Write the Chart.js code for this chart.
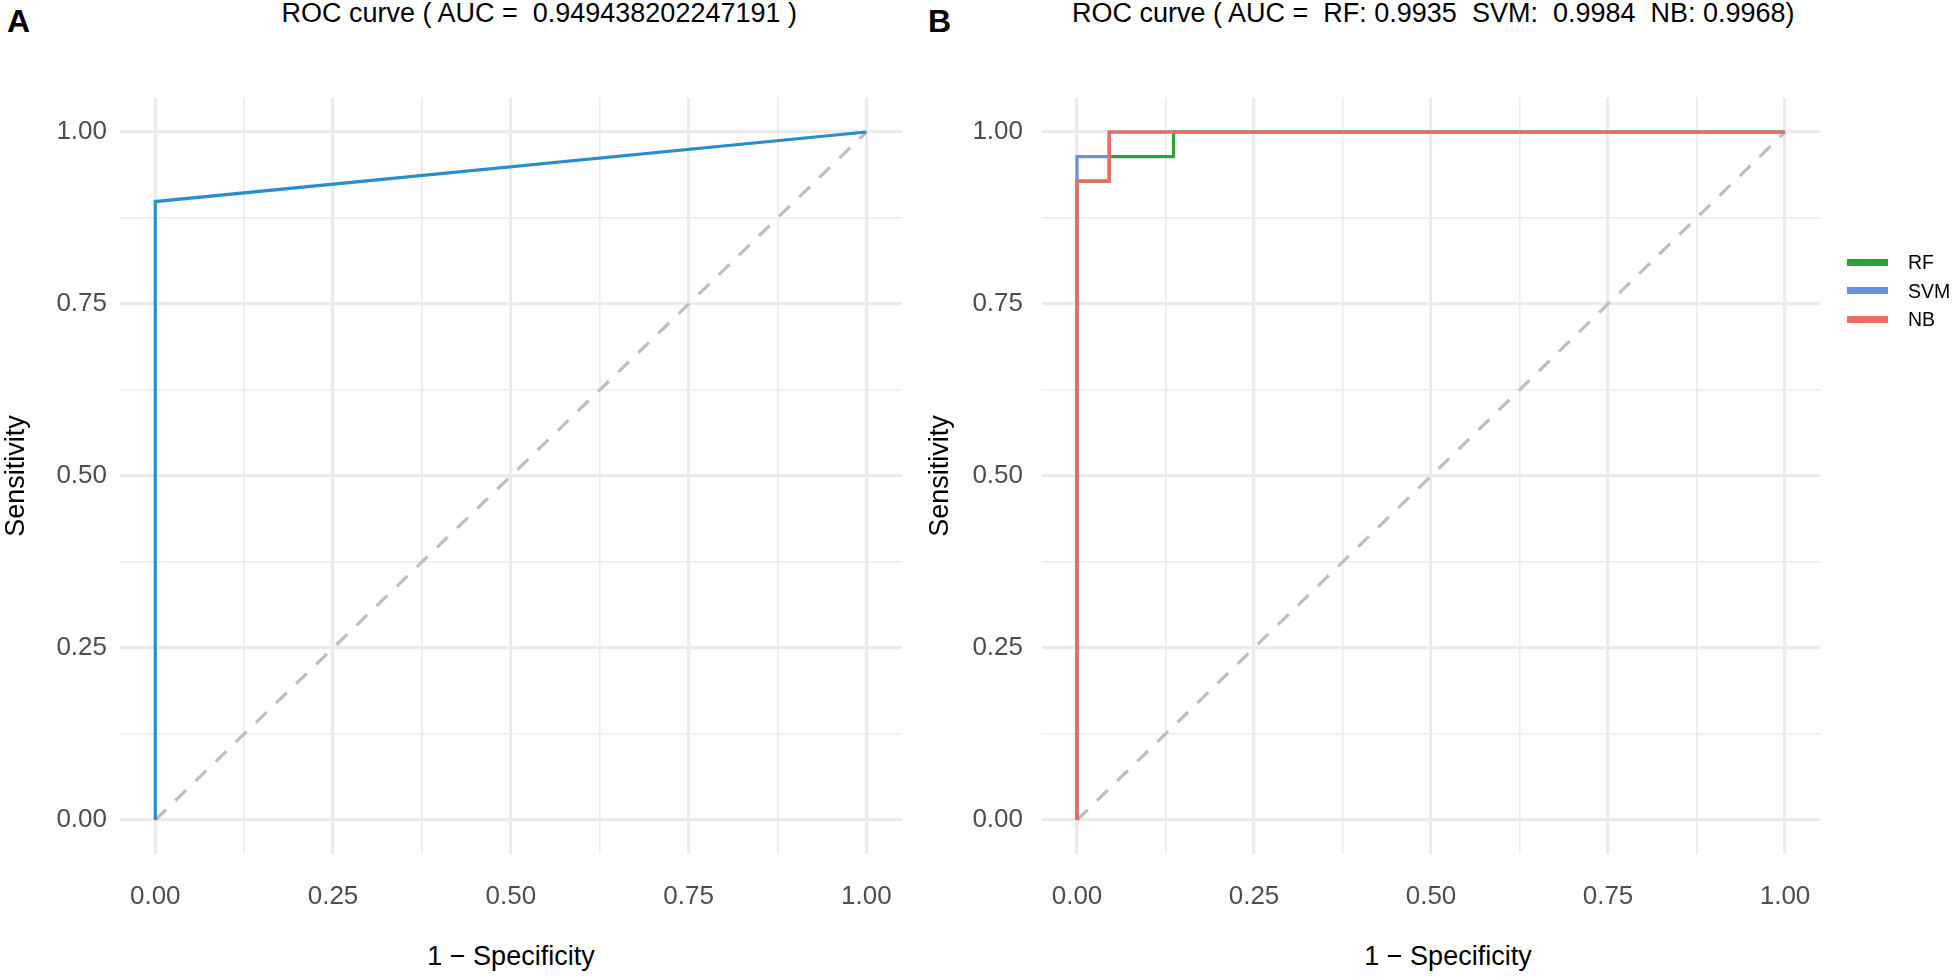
<!DOCTYPE html>
<html>
<head>
<meta charset="utf-8">
<script src="https://cdn.jsdelivr.net/npm/chart.js@4.4.1/dist/chart.umd.min.js"></script>
<style>
  html, body { margin: 0; padding: 0; background: #fff; }
  body { width: 1955px; height: 977px; position: relative; overflow: hidden;
         font-family: "Liberation Sans", Arial, sans-serif; color: #000; }
  .box { position: absolute; top: 0; height: 977px; }
  .tag { position: absolute; top: 5px; font-size: 32px; line-height: 32px; font-weight: bold; }
  .title { position: absolute; top: -1px; font-size: 27px; line-height: 28px; white-space: pre; }
  .xtitle { position: absolute; top: 943px; width: 400px; text-align: center;
            font-size: 27px; line-height: 27px; white-space: pre; }
  #legend { position: absolute; left: 1847px; top: 248px; }
  .row { height: 28.5px; display: flex; align-items: center; }
  .key { width: 41px; height: 7px; margin-right: 20px; }
  .lab { font-size: 19.5px; line-height: 20px; }
</style>
</head>
<body>
<div class="tag" style="left:7px">A</div>
<div class="tag" style="left:928px">B</div>
<div class="title" id="titleA" style="right:1158px"></div>
<div class="title" id="titleB" style="left:1072px"></div>
<div class="xtitle" id="xtitleA" style="left:311px"></div>
<div class="xtitle" id="xtitleB" style="left:1248px"></div>
<div class="box" style="left:0;width:940px"><canvas id="chartA"></canvas></div>
<div class="box" style="left:924px;width:1031px"><canvas id="chartB"></canvas></div>
<div id="legend"></div>

<script>
// tick positions and labels (both axes, both panels)
const majorTicks = [0, 0.25, 0.5, 0.75, 1];
const minorTicks = [0.125, 0.375, 0.625, 0.875];
const tickLabels = ['0.00', '0.25', '0.50', '0.75', '1.00'];

const xLabel = '1 \u2212 Specificity';
const yLabel = 'Sensitivity';

// chance line
const diagFpr = [0, 1];
const diagTpr = [0, 1];

// panel A
const aFpr = [0, 0, 1];
const aTpr = [0, 0.898876, 1];
const aAuc = '0.949438202247191';
const aColor = '#2B8DCB';

// panel B
const seriesNames = ['RF', 'SVM', 'NB'];
const seriesColors = ['#2CA33A', '#6A93D6', '#EE6A5F'];
const seriesAuc = ['0.9935', '0.9984', '0.9968'];
const rfFpr = [0, 0, 0.0455, 0.0455, 0.1364, 0.1364, 1];
const rfTpr = [0, 0.9286, 0.9286, 0.9643, 0.9643, 1, 1];
const svmFpr = [0, 0, 0.0455, 0.0455, 1];
const svmTpr = [0, 0.9643, 0.9643, 1, 1];
const nbFpr = [0, 0, 0.0455, 0.0455, 1];
const nbTpr = [0, 0.9286, 0.9286, 1, 1];

Chart.defaults.font.family = '"Liberation Sans", Arial, sans-serif';

const toPoints = (xs, ys) => xs.map((x, i) => ({ x: x, y: ys[i] }));

function diagSet() {
    return {
        data: toPoints(diagFpr, diagTpr),
        borderColor: '#BEBEBE',
        borderWidth: 3.2,
        borderDash: [15, 13],
        order: 10,
    };
}

function curveSet(xs, ys, color, order) {
    return {
        data: toPoints(xs, ys),
        borderColor: color,
        borderWidth: 3.2,
        order: order,
    };
}

function scaleOpts(horizontal, size, pad, withTitle) {
    return {
        type: 'linear',
        min: -0.05,
        max: 1.05,
        afterBuildTicks: s => {
            s.ticks = majorTicks.concat(minorTicks).sort((a, b) => a - b).map(v => ({ value: v }));
        },
        afterFit: s => {
            if (horizontal) s.height = size; else s.width = size;
        },
        border: { display: false },
        grid: {
            color: '#EBEBEB',
            lineWidth: c => majorTicks.includes(c.tick.value) ? 3.2 : 1.6,
            drawTicks: false,
        },
        ticks: {
            autoSkip: false,
            maxRotation: 0,
            minRotation: 0,
            padding: pad,
            color: '#4D4D4D',
            font: { size: 26 },
            callback: v => {
                const i = majorTicks.indexOf(v);
                return i < 0 ? '' : tickLabels[i];
            }
        },
        title: {
            display: withTitle,
            text: withTitle ? yLabel : '',
            color: '#000',
            font: { size: 27 },
            padding: { top: 0, bottom: 0 },
        }
    };
}

function makeChart(id, datasets, yWidth, yPad, padRight) {
    return new Chart(document.getElementById(id), {
        type: 'line',
        data: { datasets: datasets },
        options: {
            responsive: true,
            maintainAspectRatio: false,
            animation: false,
            events: [],
            layout: { padding: { top: 97.6, right: padRight, bottom: 0, left: 0 } },
            elements: {
                point: { radius: 0 },
                line: { tension: 0, fill: false },
            },
            scales: {
                x: scaleOpts(true, 122.6, 27, false),
                y: scaleOpts(false, yWidth, yPad, true),
            },
            plugins: {
                legend: { display: false },
                tooltip: { enabled: false },
            }
        }
    });
}

makeChart('chartA', [
    curveSet(aFpr, aTpr, aColor, 1),
    diagSet(),
], 119.7, 12.7, 38.1);

makeChart('chartB', [
    curveSet(rfFpr, rfTpr, seriesColors[0], 3),
    curveSet(svmFpr, svmTpr, seriesColors[1], 2),
    curveSet(nbFpr, nbTpr, seriesColors[2], 1),
    diagSet(),
], 117.6, 18.6, 134.6);

// titles
document.getElementById('titleA').textContent = 'ROC curve ( AUC =  ' + aAuc + ' )';
document.getElementById('titleB').textContent = 'ROC curve ( AUC =  ' +
    seriesNames[0] + ': ' + seriesAuc[0] + '  ' +
    seriesNames[1] + ':  ' + seriesAuc[1] + '  ' +
    seriesNames[2] + ': ' + seriesAuc[2] + ')';
document.getElementById('xtitleA').textContent = xLabel;
document.getElementById('xtitleB').textContent = xLabel;

// legend for panel B
const legend = document.getElementById('legend');
seriesNames.forEach((name, i) => {
    const row = document.createElement('div');
    row.className = 'row';
    const key = document.createElement('div');
    key.className = 'key';
    key.style.background = seriesColors[i];
    const lab = document.createElement('div');
    lab.className = 'lab';
    lab.textContent = name;
    row.appendChild(key);
    row.appendChild(lab);
    legend.appendChild(row);
});
</script>
</body>
</html>
